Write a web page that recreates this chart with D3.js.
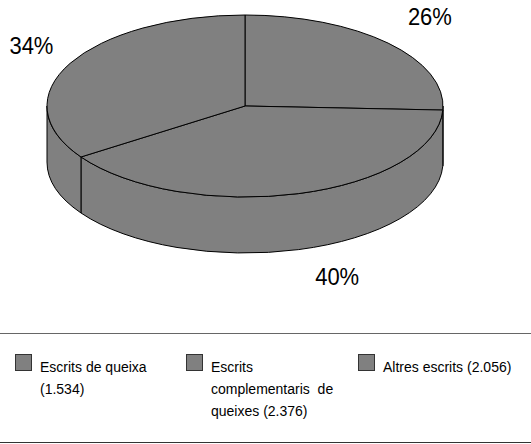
<!DOCTYPE html>
<html>
<head>
<meta charset="utf-8">
<script src="https://cdn.jsdelivr.net/npm/d3@7"></script>
<style>
  html, body { margin: 0; padding: 0; background: #fff; }
  svg { display: block; }
</style>
</head>
<body>
<svg id="chart" width="531" height="444"></svg>
<script>
// ---- data ----
const categories = ["Escrits de queixa", "Escrits complementaris de queixes", "Altres escrits"];
const values = [1534, 2376, 2056];
const valueLabels = ["1.534", "2.376", "2.056"];
const percentLabels = ["26%", "40%", "34%"];
const legendLines = [
  ["Escrits de queixa", "(1.534)"],
  ["Escrits", "complementaris  de", "queixes (2.376)"],
  ["Altres escrits (2.056)"]
];

// ---- layout ----
const W = 531, H = 444;
const cx = 245, cy = 106, rx = 198, ry = 91, depth = 56;
const fill = "#808080", stroke = "#000";

const svg = d3.select("#chart");

const pie = d3.pie().sort(null).value(d => d).startAngle(0).endAngle(2 * Math.PI);
const arcs = pie(values);

const topPt = a => [cx + rx * Math.sin(a), cy - ry * Math.cos(a)];
const botPt = a => [cx + rx * Math.sin(a), cy - ry * Math.cos(a) + depth];

// side walls (front half: angles between PI/2 and 3PI/2)
const walls = svg.append("g");
arcs.forEach(d => {
  const a0 = Math.max(d.startAngle, Math.PI / 2);
  const a1 = Math.min(d.endAngle, 3 * Math.PI / 2);
  if (a1 <= a0) return;
  const large = (a1 - a0) > Math.PI ? 1 : 0;
  const p0 = topPt(a0), p1 = topPt(a1), b1 = botPt(a1), b0 = botPt(a0);
  const path = `M${p0[0]},${p0[1]} A${rx},${ry} 0 ${large} 1 ${p1[0]},${p1[1]} L${b1[0]},${b1[1]} A${rx},${ry} 0 ${large} 0 ${b0[0]},${b0[1]} Z`;
  walls.append("path").attr("d", path).attr("fill", fill).attr("stroke", stroke).attr("stroke-width", 1).attr("stroke-linejoin", "round");
});

// top faces
const tops = svg.append("g");
arcs.forEach(d => {
  const a0 = d.startAngle, a1 = d.endAngle;
  const large = (a1 - a0) > Math.PI ? 1 : 0;
  const p0 = topPt(a0), p1 = topPt(a1);
  const path = `M${cx},${cy} L${p0[0]},${p0[1]} A${rx},${ry} 0 ${large} 1 ${p1[0]},${p1[1]} Z`;
  tops.append("path").attr("d", path).attr("fill", fill).attr("stroke", stroke).attr("stroke-width", 1).attr("stroke-linejoin", "round");
});

// percentage labels
const labelNudge = [[6, 0], [25, -10], [5, 0]];
arcs.forEach((d, i) => {
  const m = (d.startAngle + d.endAngle) / 2;
  let x = cx + 1.25 * rx * Math.sin(m);
  let y = cy - 1.42 * ry * Math.cos(m);
  if (Math.cos(m) < 0) y += depth;
  x += labelNudge[i][0]; y += labelNudge[i][1];
  svg.append("text")
    .attr("x", x).attr("y", y)
    .attr("text-anchor", "middle")
    .attr("dominant-baseline", "central")
    .attr("font-family", "Liberation Sans, Arial, sans-serif")
    .attr("font-size", 24)
    .attr("textLength", 44)
    .attr("lengthAdjust", "spacingAndGlyphs")
    .attr("fill", "#000")
    .text(percentLabels[i]);
});

// legend
svg.append("line").attr("x1", 0).attr("x2", W).attr("y1", 333.5).attr("y2", 333.5).attr("stroke", "#666").attr("stroke-width", 1);
svg.append("line").attr("x1", 0).attr("x2", W).attr("y1", 442.5).attr("y2", 442.5).attr("stroke", "#333").attr("stroke-width", 1);

const legendX = [15.5, 186.5, 358.5];
const lg = svg.append("g");
categories.forEach((c, i) => {
  lg.append("rect")
    .attr("x", legendX[i]).attr("y", 354.5)
    .attr("width", 16).attr("height", 16)
    .attr("fill", fill).attr("stroke", "#333").attr("stroke-width", 1);
  const t = lg.append("text")
    .attr("font-family", "Liberation Sans, Arial, sans-serif")
    .attr("font-size", 14)
    .attr("fill", "#000");
  legendLines[i].forEach((ln, j) => {
    t.append("tspan")
      .attr("x", legendX[i] + 24.5)
      .attr("y", 372 + j * 22)
      .attr("xml:space", "preserve")
      .text(ln);
  });
});
</script>
</body>
</html>
